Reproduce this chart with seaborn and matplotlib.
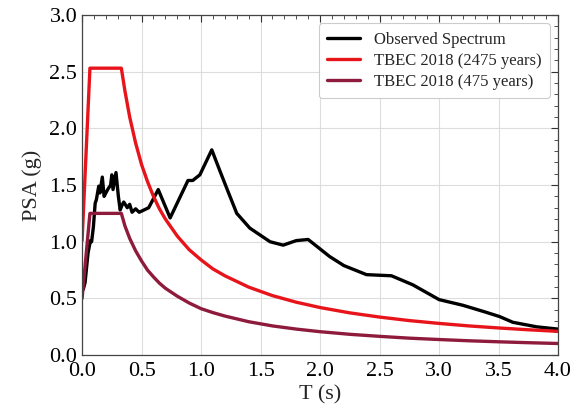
import matplotlib
matplotlib.use("Agg")
import matplotlib.pyplot as plt
from matplotlib.ticker import MultipleLocator
import pandas as pd
import seaborn as sns

# ---- Data ------------------------------------------------------------------
obs_t = [0.01, 0.025, 0.05, 0.07, 0.08, 0.095, 0.11, 0.12, 0.14, 0.15, 0.17,
         0.185, 0.20, 0.215, 0.24, 0.25, 0.26, 0.285, 0.305, 0.32, 0.335,
         0.35, 0.38, 0.40, 0.42, 0.45, 0.48, 0.52, 0.56, 0.64, 0.74, 0.89,
         0.93, 0.99, 1.09, 1.16, 1.22, 1.30, 1.41, 1.58, 1.69, 1.80, 1.90,
         2.08, 2.20, 2.39, 2.60, 2.78, 3.00, 3.20, 3.39, 3.51, 3.62, 3.82, 4.00]
obs_psa = [0.58, 0.64, 0.90, 1.01, 1.00, 1.13, 1.34, 1.37, 1.49, 1.43, 1.57,
           1.40, 1.43, 1.46, 1.50, 1.59, 1.46, 1.61, 1.40, 1.28, 1.32,
           1.35, 1.30, 1.33, 1.26, 1.29, 1.26, 1.28, 1.30, 1.46, 1.21, 1.54,
           1.54, 1.59, 1.81, 1.62, 1.46, 1.25, 1.12, 1.00, 0.97, 1.01, 1.02,
           0.87, 0.79, 0.71, 0.70, 0.62, 0.49, 0.44, 0.38, 0.34, 0.29, 0.25, 0.23]

code_t = [0.0, 0.066, 0.33, 0.36, 0.40, 0.45, 0.50, 0.55, 0.60, 0.65, 0.70,
          0.80, 0.90, 1.00, 1.10, 1.20, 1.40, 1.60, 1.80, 2.00, 2.25, 2.50,
          2.75, 3.00, 3.25, 3.50, 3.75, 4.00]
tbec_2475 = [1.01, 2.53, 2.53, 2.33, 2.10, 1.87, 1.68, 1.53, 1.40, 1.29, 1.20,
             1.05, 0.93, 0.84, 0.76, 0.70, 0.60, 0.525, 0.467, 0.42, 0.373, 0.336,
             0.305, 0.28, 0.258, 0.24, 0.224, 0.21]
tbec_475 = [0.50, 1.25, 1.25, 1.14, 1.03, 0.92, 0.83, 0.75, 0.69, 0.635, 0.59,
            0.52, 0.46, 0.41, 0.375, 0.345, 0.295, 0.258, 0.23, 0.207, 0.184, 0.166,
            0.15, 0.138, 0.127, 0.118, 0.11, 0.103]

# ---- Styling ---------------------------------------------------------------
sns.set_theme(style="whitegrid")
plt.rcParams["font.family"] = ["Liberation Serif", "DejaVu Serif"]

RED = "#E8141B"
MAROON = "#8E1B3C"

obs = pd.DataFrame({"T": obs_t, "PSA": obs_psa})
code = pd.DataFrame({"T": code_t, "r2475": tbec_2475, "r475": tbec_475})

fig, ax = plt.subplots(figsize=(5.7, 4.13), dpi=100)
fig.subplots_adjust(left=0.144, right=0.979, bottom=0.14, top=0.964)

sns.lineplot(data=obs, x="T", y="PSA", ax=ax, color="black", linewidth=2.4,
             label="Observed Spectrum")
sns.lineplot(data=code, x="T", y="r2475", ax=ax, color=RED, linewidth=2.4,
             label="TBEC 2018 (2475 years)")
sns.lineplot(data=code, x="T", y="r475", ax=ax, color=MAROON, linewidth=2.4,
             label="TBEC 2018 (475 years)")

ax.set_xlim(0, 4)
ax.set_ylim(0, 3)
ax.xaxis.set_major_locator(MultipleLocator(0.5))
ax.xaxis.set_minor_locator(MultipleLocator(0.1))
ax.yaxis.set_major_locator(MultipleLocator(0.5))
ax.yaxis.set_minor_locator(MultipleLocator(0.1))
ax.xaxis.set_major_formatter(lambda v, p: f"{v:.1f}")
ax.yaxis.set_major_formatter(lambda v, p: f"{v:.1f}")

ax.grid(True, which="major", color="#dddddd", linewidth=0.8)
ax.tick_params(which="both", direction="in", top=True, right=True,
               colors="#333333", labelcolor="black")
ax.tick_params(which="major", length=5, width=0.8, labelsize=16)
ax.tick_params(axis="x", which="major", pad=5)
ax.tick_params(which="minor", length=3, width=0.6)
for s in ax.spines.values():
    s.set_color("#444444")
    s.set_linewidth(0.9)

ax.set_xlabel("T (s)", fontsize=16, labelpad=3)
ax.set_ylabel("PSA (g)", fontsize=16, labelpad=5)

leg = ax.legend(loc="upper right", fontsize=12, frameon=True, fancybox=True,
                edgecolor="#cccccc", framealpha=1.0, borderpad=0.5,
                labelspacing=0.3, handlelength=2.0)
leg.get_frame().set_linewidth(0.8)

fig.savefig("out.png", dpi=100, facecolor="white")
